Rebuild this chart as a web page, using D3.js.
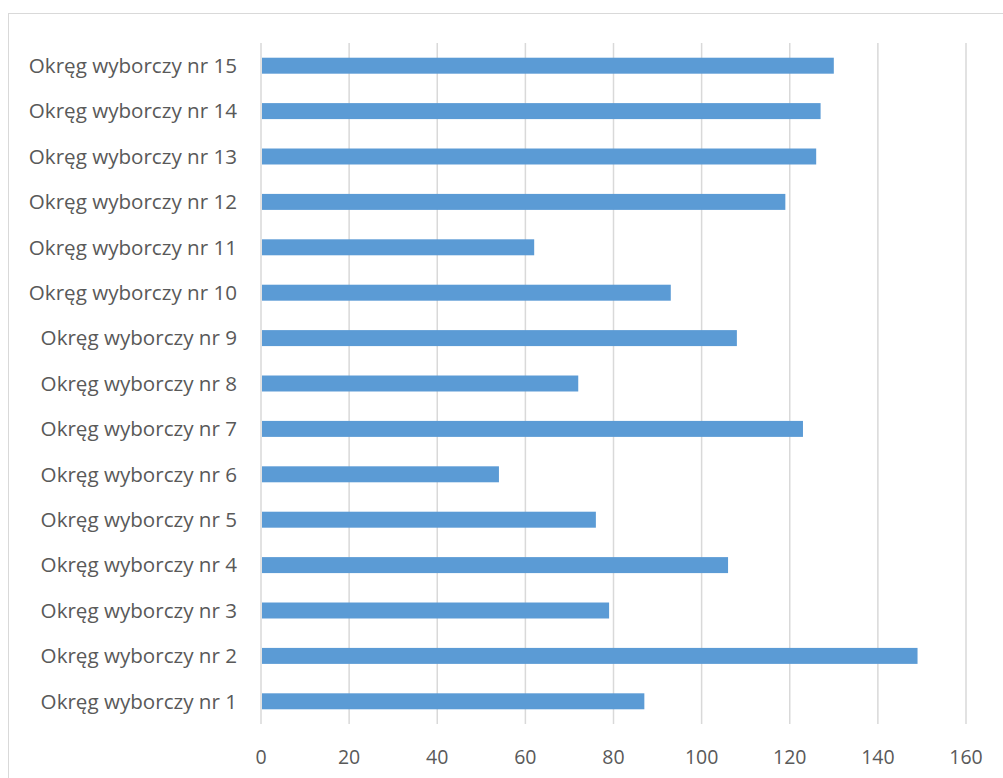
<!DOCTYPE html>
<html><head><meta charset="utf-8">
<script src="https://cdn.jsdelivr.net/npm/d3@7"></script>
<style>body{margin:0;background:#fff}svg{display:block}</style>
</head><body>
<svg id="c" width="1003" height="778"></svg>
<script>
const categories = ["Okręg wyborczy nr 1","Okręg wyborczy nr 2","Okręg wyborczy nr 3","Okręg wyborczy nr 4","Okręg wyborczy nr 5","Okręg wyborczy nr 6","Okręg wyborczy nr 7","Okręg wyborczy nr 8","Okręg wyborczy nr 9","Okręg wyborczy nr 10","Okręg wyborczy nr 11","Okręg wyborczy nr 12","Okręg wyborczy nr 13","Okręg wyborczy nr 14","Okręg wyborczy nr 15"];
const values = [87,149,79,106,76,54,123,72,108,93,62,119,126,127,130];
const xTicks = [0,20,40,60,80,100,120,140,160];

(function(){
const svg = d3.select("#c");
const pL = 261, pR = 966, pT = 43, pB = 724;
const font = "'Open Sans', sans-serif";

svg.append("rect").attr("x",8.5).attr("y",13.5).attr("width",1010).attr("height",800)
  .attr("fill","#fff").attr("stroke","#d9d9d9").attr("stroke-width",1);

const x = d3.scaleLinear().domain([0,160]).range([pL,pR]);
const y = d3.scaleBand().domain(categories.slice().reverse()).range([pT,pB]).paddingInner(0.648).paddingOuter(0.324);

svg.append("g").selectAll("line").data(xTicks).join("line")
  .attr("x1",d=>x(d)).attr("x2",d=>x(d)).attr("y1",pT).attr("y2",pB)
  .attr("stroke","#d9d9d9").attr("stroke-width",1.5);

svg.append("g").selectAll("rect").data(categories).join("rect")
  .attr("x",x(0)+1).attr("y",d=>y(d)).attr("height",y.bandwidth())
  .attr("width",(d,i)=>x(values[i])-x(0)-1).attr("fill","#5b9bd5");

svg.append("g").selectAll("text").data(xTicks).join("text")
  .attr("x",d=>x(d)).attr("y",764).attr("text-anchor","middle")
  .attr("font-family",font).attr("font-size",19.5).attr("fill","#595959").text(d=>d);

svg.append("g").selectAll("text").data(categories).join("text")
  .attr("x",237).attr("y",d=>y(d)+y.bandwidth()/2).attr("dy","0.35em").attr("text-anchor","end")
  .attr("font-family",font).attr("font-size",20.6).attr("fill","#595959").text(d=>d);
})();
</script>
</body></html>
